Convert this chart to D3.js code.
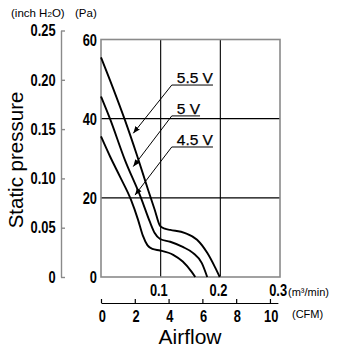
<!DOCTYPE html>
<html><head><meta charset="utf-8">
<script src="https://cdn.jsdelivr.net/npm/d3@7"></script>
<style>
html,body{margin:0;padding:0;background:#fff;}
svg{display:block;}
.tick text{font-family:"Liberation Sans",Arial,sans-serif;font-weight:bold;font-size:16.5px;fill:#000;}
</style></head>
<body>
<svg id="c" width="349" height="349"></svg>
<script>
// ---- data (m³/min, Pa) ----
const voltages = ["5.5 V", "5 V", "4.5 V"];
const flow55 = [0, 0.020, 0.040, 0.060, 0.079, 0.090, 0.099, 0.107, 0.116, 0.141, 0.161, 0.178, 0.191, 0.199];
const pres55 = [55.5, 47.8, 39.7, 30.9, 22.0, 17.0, 12.9, 12.2, 11.9, 11.1, 9.4, 6.1, 2.5, 0];
const flow50 = [0, 0.015, 0.040, 0.067, 0.082, 0.090, 0.099, 0.116, 0.137, 0.154, 0.169, 0.178];
const pres50 = [45.6, 40.0, 29.6, 20.0, 13.9, 11.1, 9.6, 8.9, 7.6, 6.1, 3.5, 0];
const flow45 = [0, 0.015, 0.032, 0.050, 0.062, 0.070, 0.078, 0.086, 0.099, 0.121, 0.137, 0.152, 0.158];
const pres45 = [35.5, 30.5, 25.3, 19.6, 14.5, 10.5, 8.0, 7.1, 6.7, 5.6, 3.9, 1.3, 0];
// label anchors and arrow tips (data units)
const labelFlow = [0.127, 0.127, 0.127];
const labelPres = [49.0, 41.2, 33.35];
const tipFlow = [0.0541, 0.0541, 0.057];
const tipPres = [36.3, 27.9, 20.7];
// ticks
const paTicks = [0, 20, 40, 60];
const inchTicks = [0, 0.05, 0.10, 0.15, 0.20, 0.25];
const m3Ticks = [0.1, 0.2, 0.3];
const cfmTicks = [0, 2, 4, 6, 8, 10];
const PA_PER_INCH = 249.089, M3_PER_CFM = 0.0283168;

const svg = d3.select("#c");
const L = 101, R = 280, T = 39.5, B = 277;
const x = d3.scaleLinear().domain([0, 0.3]).range([L, R]);
const y = d3.scaleLinear().domain([0, 60]).range([B, T]);
const frame = "#8a8a8a";
const NARROW = "scale(0.78,1)";

// grid
const g = svg.append("g");
g.selectAll("line.v").data([0.1, 0.2]).join("line")
  .attr("x1", d => x(d)).attr("x2", d => x(d)).attr("y1", T).attr("y2", B)
  .attr("stroke", "#000").attr("stroke-width", 1.1);
g.selectAll("line.h").data([20, 40]).join("line")
  .attr("y1", d => y(d)).attr("y2", d => y(d)).attr("x1", L).attr("x2", R)
  .attr("stroke", "#000").attr("stroke-width", 1.1);
g.append("rect").attr("x", L).attr("y", T).attr("width", R - L).attr("height", B - T)
  .attr("fill", "none").attr("stroke", frame).attr("stroke-width", 1.6);

// curves
const series = [[flow55, pres55], [flow50, pres50], [flow45, pres45]];
const line = d3.line().x(d => x(d[0])).y(d => y(d[1])).curve(d3.curveMonotoneX);
series.forEach(([f, p]) => {
  svg.append("path").datum(f.map((v, i) => [v, p[i]]))
    .attr("d", line).attr("fill", "none").attr("stroke", "#000").attr("stroke-width", 1.9);
});

// arrow marker
svg.append("defs").append("marker").attr("id", "ah")
  .attr("viewBox", "0 0 10 10").attr("refX", 10).attr("refY", 5)
  .attr("markerWidth", 7).attr("markerHeight", 7).attr("markerUnits", "userSpaceOnUse")
  .attr("orient", "auto")
  .append("path").attr("d", "M0,1 L10,5 L0,9 Z").attr("fill", "#000");

// labels
voltages.forEach((v, i) => {
  const tx = svg.append("text").attr("x", x(labelFlow[i])).attr("y", y(labelPres[i]))
    .attr("font-family", "Liberation Sans, Arial, sans-serif").attr("font-size", 15.5)
    .attr("stroke", "#000").attr("stroke-width", 0.25).text(v);
  const w = tx.node().getComputedTextLength();
  const ux0 = x(labelFlow[i]) - 5, uy = y(labelPres[i]) + 2;
  svg.append("line").attr("x1", ux0).attr("x2", x(labelFlow[i]) + w).attr("y1", uy).attr("y2", uy)
    .attr("stroke", "#000").attr("stroke-width", 1);
  svg.append("line").attr("x1", ux0).attr("y1", uy).attr("x2", x(tipFlow[i])).attr("y2", y(tipPres[i]))
    .attr("stroke", "#000").attr("stroke-width", 1).attr("marker-end", "url(#ah)");
});

// Pa axis
const paAx = svg.append("g").attr("transform", `translate(${L - 4},0)`)
  .call(d3.axisLeft(y).tickValues(paTicks).tickSize(0).tickPadding(0).tickFormat(d3.format("d")));
paAx.select(".domain").remove();
paAx.selectAll(".tick text").attr("dy", "0.36em").attr("transform", NARROW);

// inch H2O axis
const yIn = d3.scaleLinear().domain([0, 0.25]).range([B, y(0.25 * PA_PER_INCH)]);
const inAx = svg.append("g").attr("transform", "translate(61,0)")
  .call(d3.axisLeft(yIn).tickValues(inchTicks).tickSizeInner(-4).tickSizeOuter(0).tickPadding(7)
    .tickFormat(d => d === 0 ? "0" : d3.format(".2f")(d)));
inAx.select(".domain").attr("stroke", frame).attr("stroke-width", 1.4);
inAx.selectAll(".tick line").attr("stroke", frame).attr("stroke-width", 1.4);
inAx.selectAll(".tick text").attr("transform", NARROW);

// m³/min axis
const mAx = svg.append("g").attr("transform", `translate(0,${B})`)
  .call(d3.axisBottom(x).tickValues(m3Ticks).tickSize(0).tickPadding(7).tickFormat(d3.format(".1f")));
mAx.select(".domain").remove();
mAx.selectAll(".tick text").attr("dx", -3).attr("transform", NARROW);

// CFM axis
const cfmMax = 10.47;
const xC = d3.scaleLinear().domain([0, cfmMax]).range([L, x(cfmMax * M3_PER_CFM)]);
const cAx = svg.append("g").attr("transform", "translate(0,303)")
  .call(d3.axisBottom(xC).tickValues(cfmTicks).tickSizeInner(-4).tickSizeOuter(0).tickPadding(7));
cAx.select(".domain").attr("stroke", "#000").attr("stroke-width", 1.2);
cAx.selectAll(".tick line").attr("stroke", "#000").attr("stroke-width", 1.2);
cAx.selectAll(".tick text").attr("dx", 1).attr("transform", NARROW);

// unit labels
const uf = "Liberation Sans, Arial, sans-serif";
const t1 = svg.append("text").attr("x", 11).attr("y", 17).attr("font-family", uf).attr("font-size", 11.5);
t1.append("tspan").text("(inch H");
t1.append("tspan").attr("font-size", 8).text("2");
t1.append("tspan").text("O)");
svg.append("text").attr("x", 75).attr("y", 17).attr("font-family", uf).attr("font-size", 11.5).text("(Pa)");
svg.append("text").attr("x", 288).attr("y", 296).attr("font-family", uf).attr("font-size", 11).text("(m³/min)");
svg.append("text").attr("x", 292).attr("y", 318).attr("font-family", uf).attr("font-size", 11).text("(CFM)");

// axis titles
svg.append("text").attr("x", 190).attr("y", 344).attr("text-anchor", "middle")
  .attr("font-family", uf).attr("font-size", 21).text("Airflow");
svg.append("text").attr("transform", "translate(23,160) rotate(-90)").attr("text-anchor", "middle")
  .attr("font-family", uf).attr("font-size", 20.5).text("Static pressure");
</script>
</body></html>
